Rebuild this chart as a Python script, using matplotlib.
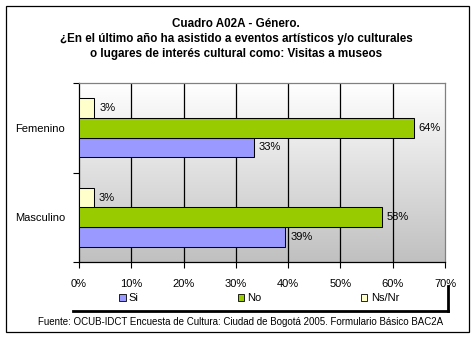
import matplotlib
matplotlib.use("Agg")
import matplotlib.pyplot as plt
import numpy as np
from matplotlib.patches import Rectangle, Patch
from matplotlib.lines import Line2D
from matplotlib.colors import LinearSegmentedColormap

plt.rcParams['font.family'] = ['Liberation Sans', 'DejaVu Sans']

categories = ["Masculino", "Femenino"]
series_names = ["Si", "No", "Ns/Nr"]
si = [39.4, 33.4]
no = [57.9, 64.0]
nsnr = [2.8, 2.9]
xticks = [0, 10, 20, 30, 40, 50, 60, 70]
xtick_labels = ["0%", "10%", "20%", "30%", "40%", "50%", "60%", "70%"]
title = ("Cuadro A02A - Género.\n"
         "¿En el último año ha asistido a eventos artísticos y/o culturales\n"
         "o lugares de interés cultural como: Visitas a museos")
source = "Fuente: OCUB-IDCT Encuesta de Cultura: Ciudad de Bogotá 2005. Formulario Básico BAC2A"

colors = ["#9999FF", "#99CC00", "#FFFFCC"]

W, H = 476, 338
fig = plt.figure(figsize=(W / 100, H / 100), dpi=100)

def fx(px):
    return px / W

def fy(py):
    return 1 - py / H

ax = fig.add_axes([fx(79), fy(262), fx(445) - fx(79), fy(83) - fy(262)])

# gradient background (white at top, grey at bottom)
grad = np.linspace(0, 1, 256).reshape(-1, 1)
cmap = LinearSegmentedColormap.from_list("g", ["#FFFFFF", "#C0C0C0"])
ax.imshow(grad, extent=[0, 70, -0.5, 1.5], aspect="auto", cmap=cmap, zorder=0,
          origin="upper")

y = np.arange(len(categories))
h = 0.218
offsets = [-h, 0, h]
for vals, c, off, name in zip([si, no, nsnr], colors, offsets, series_names):
    bars = ax.barh(y + off, vals, height=h, color=c, edgecolor="black",
                   linewidth=0.75, zorder=3, label=name)
    for b, v in zip(bars, vals):
        ax.text(v + 1.0, b.get_y() + b.get_height() / 2, "%.0f%%" % v,
                va="center", ha="left", fontsize=8, zorder=4)

ax.set_xlim(0, 70)
ax.set_ylim(-0.5, 1.5)
ax.set_xticks(xticks)
ax.set_xticklabels(xtick_labels, fontsize=8)
ax.set_yticks(y)
ax.set_yticklabels(categories, fontsize=8)
ax.tick_params(axis="y", length=0, pad=10)
ax.tick_params(axis="x", length=4, width=0.8, direction="out", pad=8)
ax.set_yticks([-0.5, 0.5, 1.5], minor=True)
ax.tick_params(axis="y", which="minor", length=4, width=0.8, direction="out")

for xv in xticks[1:-1]:
    ax.axvline(xv, color="black", linewidth=0.9, zorder=1)

ax.spines["left"].set_color("black")
ax.spines["bottom"].set_color("black")
ax.spines["top"].set_color("#808080")
ax.spines["right"].set_color("#808080")
for s in ax.spines.values():
    s.set_linewidth(0.9)

# title
fig.text(fx(236), fy(39), title, ha="center", va="center", fontsize=8.4,
         fontweight="bold", linespacing=1.3)

# legend
handles = [Patch(facecolor=c, edgecolor="black", linewidth=0.6) for c in colors]
leg = fig.legend(handles, series_names, loc="center", ncol=3,
                 bbox_to_anchor=(fx(259), fy(298)), frameon=False,
                 fontsize=8, handlelength=0.6, handleheight=0.6,
                 handletextpad=0.3, columnspacing=8.9)

# legend shadow lines
fig.add_artist(Line2D([fx(73), fx(448)], [fy(310.5), fy(310.5)], color="black",
                      linewidth=2, transform=fig.transFigure))
fig.add_artist(Line2D([fx(447.5), fx(447.5)], [fy(286), fy(311)], color="black",
                      linewidth=2, transform=fig.transFigure))

# source
fig.text(fx(241), fy(322), source, ha="center", va="center", fontsize=7.0)

# outer border
fig.add_artist(Rectangle((fx(5.5), fy(331.5)), fx(463.5), fy(6) - fy(331.5),
                         transform=fig.transFigure, fill=False,
                         edgecolor="black", linewidth=0.9))

fig.savefig("out.png", dpi=100)
